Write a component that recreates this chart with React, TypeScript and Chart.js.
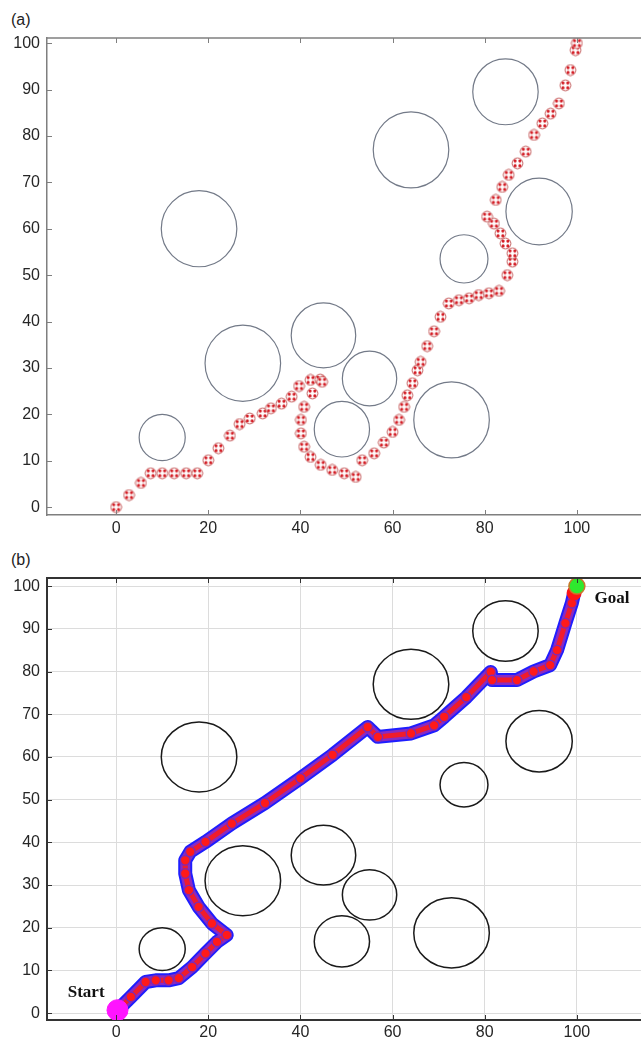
import React, { useEffect, useRef } from "react";
import { Chart, registerables } from "chart.js";
Chart.register(...registerables);

// ---- ticks ----
const xTicks = [0, 20, 40, 60, 80, 100];
const yTicks = [0, 10, 20, 30, 40, 50, 60, 70, 80, 90, 100];

// ---- obstacles (centre x, centre y, radius) ----
const obstacleX = [18, 64, 84.5, 91.8, 75.5, 27.5, 10, 45, 55, 49, 72.8];
const obstacleY = [60, 77, 89.5, 63.7, 53.5, 31, 15, 37, 27.7, 16.8, 18.8];
const obstacleR = [8.2, 8.2, 7.1, 7.2, 5.2, 8.2, 5, 7, 5.9, 6, 8.2];

// ---- panel (a) path ----
const pathAX = [0, 2.8, 5.4, 7.5, 10, 12.6, 15.2, 17.6, 20, 22.2, 24.7, 26.8, 29, 31.8, 33.6, 35.9, 38.1, 39.7, 42.2, 44.3,
  44.7, 42.6, 40.8, 40.1, 40.1, 40.8, 42.2, 44.4, 46.9, 49.5, 52, 53.4, 56, 58.1, 60, 61.4, 62.5, 63.2, 64.3, 65.4, 66.1,
  67.5, 69, 70.4, 72.2, 74.4, 76.6, 78.7, 80.9, 83.1, 84.9, 86, 86, 84.5, 83.4, 82, 80.5, 82.4, 83.8, 85.2, 87.1, 88.9,
  90.7, 92.5, 94.3, 96.1, 97.5, 98.6, 99.7, 100];
const pathAY = [0, 2.6, 5.2, 7.3, 7.3, 7.3, 7.3, 7.3, 10.1, 12.7, 15.4, 17.9, 19.1, 20.2, 21.3, 22.3, 23.8, 26.1, 27.4, 27.5,
  27, 24.5, 21.6, 18.8, 15.9, 13, 10.8, 9.1, 8, 7.3, 6.5, 10.1, 11.6, 13.9, 16.2, 18.8, 21.6, 24.1, 26.7, 29.5, 31.3,
  34.7, 37.9, 41, 43.9, 44.6, 45, 45.7, 46.1, 46.6, 50, 52.9, 54.7, 56.8, 59, 61.1, 62.6, 66.2, 69, 71.6, 74.1, 76.6,
  80.2, 82.7, 84.8, 87, 90.9, 94.2, 98.5, 100];

// ---- panel (b) path ----
const pathBX = [0.3, 3.2, 6.4, 8.6, 11.4, 13.6, 16.5, 19.4, 21.9, 24, 20.8, 17.9, 15.8, 15, 15, 16.1, 19.4, 25.1, 32.3, 40,
  47, 54.6, 56.8, 64, 69, 71.2, 76, 81.3, 81.6, 87, 90.6, 94.2, 95.7, 97.5, 98.9, 99.4];
const pathBY = [0.7, 3.8, 7.3, 7.7, 7.7, 8.2, 10.8, 14, 16.7, 18.3, 21, 24.9, 28.8, 32.7, 35.8, 37.8, 40.1, 44.4, 49.2, 55,
  60.5, 67, 64.7, 65.5, 67.4, 69.4, 74, 79.9, 78, 78, 80, 81.5, 85, 91.3, 96, 98.4];

const startPoint = [0.3, 0.7];
const goalPoint = [100, 100];
const endPoint = [99.4, 98.4];

const labelTexts = ["Start", "Goal"];
const labelX = [-6.5, 107.6];
const labelY = [4.9, 97];

const TICK_FONT = { family: "'Liberation Sans', Arial, sans-serif", size: 16 };

function makeMarker(): HTMLCanvasElement {
  const c = document.createElement("canvas");
  c.width = 13;
  c.height = 13;
  const g = c.getContext("2d")!;
  g.beginPath();
  g.arc(6.5, 6.5, 5.4, 0, Math.PI * 2);
  g.fillStyle = "#ffffff";
  g.fill();
  g.lineWidth = 1;
  g.strokeStyle = "#c46060";
  g.stroke();
  g.fillStyle = "#d41e26";
  const offs = [[-2.4, -2.4], [2.4, -2.4], [-2.4, 2.4], [2.4, 2.4]];
  for (const [dx, dy] of offs) {
    g.beginPath();
    g.arc(6.5 + dx, 6.5 + dy, 1.6, 0, Math.PI * 2);
    g.fill();
  }
  return c;
}

function obstaclePlugin(color: string, width: number) {
  return {
    id: "obstacles",
    beforeDatasetsDraw(chart: any) {
      const { ctx, scales } = chart;
      const xs = scales.x, ys = scales.y;
      ctx.save();
      ctx.strokeStyle = color;
      ctx.lineWidth = width;
      for (let i = 0; i < obstacleX.length; i++) {
        const cx = xs.getPixelForValue(obstacleX[i]);
        const cy = ys.getPixelForValue(obstacleY[i]);
        const rx = Math.abs(xs.getPixelForValue(obstacleX[i] + obstacleR[i]) - cx);
        const ry = Math.abs(ys.getPixelForValue(obstacleY[i] + obstacleR[i]) - cy);
        ctx.beginPath();
        ctx.ellipse(cx, cy, rx, ry, 0, 0, Math.PI * 2);
        ctx.stroke();
      }
      ctx.restore();
    },
  };
}

function framePlugin(color: string, width: number) {
  return {
    id: "frame",
    afterDraw(chart: any) {
      const { ctx, chartArea, scales } = chart;
      const xs = scales.x, ys = scales.y;
      ctx.save();
      ctx.strokeStyle = color;
      ctx.lineWidth = width;
      ctx.beginPath();
      ctx.moveTo(chartArea.left, chartArea.top);
      ctx.lineTo(chartArea.right, chartArea.top);
      ctx.stroke();
      ctx.lineWidth = 1;
      const tl = 5;
      for (const v of xTicks) {
        const px = Math.round(xs.getPixelForValue(v)) + 0.5;
        ctx.beginPath();
        ctx.moveTo(px, chartArea.bottom);
        ctx.lineTo(px, chartArea.bottom - tl);
        ctx.moveTo(px, chartArea.top);
        ctx.lineTo(px, chartArea.top + tl);
        ctx.stroke();
      }
      for (const v of yTicks) {
        const py = Math.round(ys.getPixelForValue(v)) + 0.5;
        ctx.beginPath();
        ctx.moveTo(chartArea.left, py);
        ctx.lineTo(chartArea.left + tl, py);
        ctx.stroke();
      }
      ctx.restore();
    },
  };
}

const labelPlugin = {
  id: "labels",
  afterDatasetsDraw(chart: any) {
    const { ctx, scales } = chart;
    ctx.save();
    ctx.font = "bold 17px 'Liberation Serif', 'Times New Roman', serif";
    ctx.fillStyle = "#111";
    ctx.textAlign = "center";
    ctx.textBaseline = "middle";
    for (let i = 0; i < labelTexts.length; i++) {
      ctx.fillText(labelTexts[i], scales.x.getPixelForValue(labelX[i]), scales.y.getPixelForValue(labelY[i]));
    }
    ctx.restore();
  },
};

function scalesFor(yMin: number, yMax: number, axisColor: string, axisWidth: number, grid: boolean, xHeight: number, xPad: number) {
  return {
    x: {
      type: "linear",
      min: -15,
      max: 115,
      afterBuildTicks: (s: any) => { s.ticks = xTicks.map((v) => ({ value: v })); },
      afterFit: (s: any) => { s.height = xHeight; },
      grid: { display: grid, drawTicks: false, color: "#dcdcdc", lineWidth: 1 },
      border: { display: true, color: axisColor, width: axisWidth },
      ticks: { font: TICK_FONT, color: "#262626", padding: xPad, maxRotation: 0 },
    },
    y: {
      type: "linear",
      min: yMin,
      max: yMax,
      afterBuildTicks: (s: any) => { s.ticks = yTicks.map((v) => ({ value: v })); },
      afterFit: (s: any) => { s.width = 47; },
      grid: { display: grid, drawTicks: false, color: "#dcdcdc", lineWidth: 1 },
      border: { display: true, color: axisColor, width: axisWidth },
      ticks: { font: TICK_FONT, color: "#262626", padding: 7 },
    },
  };
}

export default function App() {
  const refA = useRef<HTMLCanvasElement>(null);
  const refB = useRef<HTMLCanvasElement>(null);

  useEffect(() => {
    const marker = makeMarker();
    const chartA = new Chart(refA.current!, {
      type: "scatter",
      data: {
        datasets: [
          {
            data: pathAX.map((x, i) => ({ x, y: pathAY[i] })),
            pointStyle: marker as any,
            pointRadius: 6,
            showLine: false,
          },
        ],
      },
      options: {
        responsive: false,
        animation: false,
        layout: { padding: { top: 38, right: 14, left: 0, bottom: 0 } },
        plugins: { legend: { display: false }, tooltip: { enabled: false } },
        scales: scalesFor(-1.7, 101.1, "#7f7f7f", 1.5, false, 25, 4) as any,
      },
      plugins: [obstaclePlugin("#737a88", 1.2), framePlugin("#7f7f7f", 1.5)],
    });

    const lineData = pathBX.map((x, i) => ({ x, y: pathBY[i] }));
    const chartB = new Chart(refB.current!, {
      type: "scatter",
      data: {
        datasets: [
          {
            data: [{ x: goalPoint[0], y: goalPoint[1] }],
            pointRadius: 8,
            backgroundColor: "#2ee82e",
            borderColor: "#c8782a",
            borderWidth: 1.5,
            order: 0,
          },
          {
            data: [{ x: endPoint[0], y: endPoint[1] }],
            pointRadius: 7,
            backgroundColor: "#ff1414",
            borderColor: "#ff1414",
            order: 1,
          },
          {
            data: [{ x: startPoint[0], y: startPoint[1] }],
            pointRadius: 10.5,
            backgroundColor: "#ff14ff",
            borderColor: "#ff14ff",
            order: 2,
          },
          {
            data: lineData,
            showLine: true,
            borderColor: "#f01c2c",
            borderWidth: 5,
            pointRadius: 4.8,
            pointBackgroundColor: "#ff1a1a",
            pointBorderColor: "#7a2ab8",
            pointBorderWidth: 1.3,
            borderJoinStyle: "round",
            borderCapStyle: "round",
            order: 3,
          } as any,
          {
            data: lineData,
            showLine: true,
            borderColor: "#8a2ac0",
            borderWidth: 10,
            pointRadius: 0,
            borderJoinStyle: "round",
            borderCapStyle: "round",
            order: 4,
          } as any,
          {
            data: lineData,
            showLine: true,
            borderColor: "#1e1eff",
            borderWidth: 14,
            pointRadius: 0,
            borderJoinStyle: "round",
            borderCapStyle: "round",
            order: 5,
          } as any,
        ],
      },
      options: {
        responsive: false,
        animation: false,
        layout: { padding: { top: 38, right: 14, left: 0, bottom: 0 } },
        plugins: { legend: { display: false }, tooltip: { enabled: false } },
        scales: scalesFor(-1.6, 101.9, "#333333", 2, true, 22, 3) as any,
      },
      plugins: [obstaclePlugin("#1a1a1a", 1.5), framePlugin("#333333", 2), labelPlugin],
    });

    return () => {
      chartA.destroy();
      chartB.destroy();
    };
  }, []);

  const labelStyle: React.CSSProperties = {
    position: "absolute",
    left: 11,
    fontFamily: "'Liberation Sans', Arial, sans-serif",
    fontSize: 16,
    lineHeight: "16px",
    color: "#222",
  };

  return (
    <div style={{ position: "absolute", left: 0, top: 0, width: 641, height: 1042, overflow: "hidden", background: "#fff" }}>
      <div style={{ ...labelStyle, top: 12 }}>(a)</div>
      <div style={{ ...labelStyle, top: 552 }}>(b)</div>
      <canvas ref={refA} width={660} height={540} style={{ position: "absolute", left: 0, top: 0, width: 660, height: 540 }} />
      <canvas ref={refB} width={660} height={502} style={{ position: "absolute", left: 0, top: 540, width: 660, height: 502 }} />
    </div>
  );
}
